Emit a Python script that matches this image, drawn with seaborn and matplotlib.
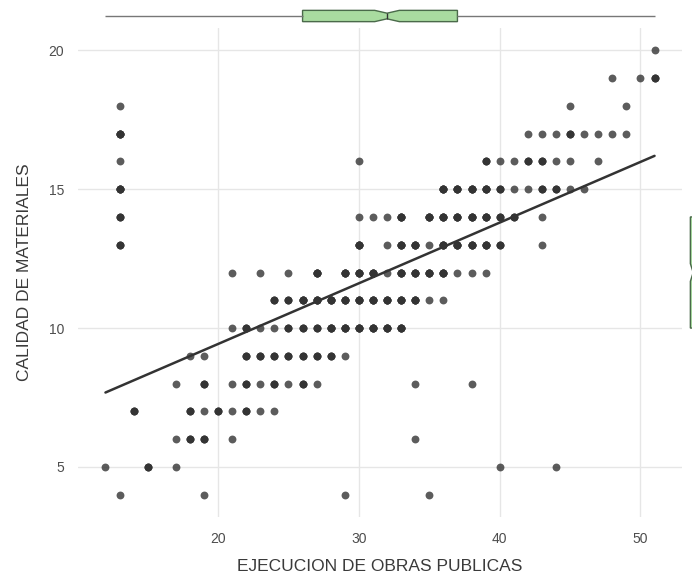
import numpy as np
import pandas as pd
import matplotlib
matplotlib.use('Agg')
import matplotlib.pyplot as plt
import seaborn as sns

# Puntos, una fila por cada valor de calidad.
# veces = cuantas observaciones se estima que hay en cada punto (los mas oscuros se repiten)
calidad = [20, 19, 18, 17, 16, 15, 14, 13, 12, 11, 10, 9, 8, 7, 6, 5, 4]

obras = [
    [51],
    [48, 50, 51],
    [13, 45, 49],
    [13, 42, 43, 44, 45, 46, 47, 48, 49],
    [13, 30, 39, 40, 41, 42, 43, 44, 45, 47],
    [13, 36, 37, 38, 39, 40, 41, 42, 43, 44, 45, 46],
    [13, 30, 31, 32, 33, 35, 36, 37, 38, 39, 40, 41, 43],
    [13, 30, 32, 33, 34, 35, 36, 37, 38, 39, 40, 43],
    [21, 23, 25, 27, 29, 30, 31, 32, 33, 34, 35, 36, 37, 38, 39],
    [24, 25, 26, 27, 28, 29, 30, 31, 32, 33, 34, 35, 36],
    [21, 22, 23, 24, 25, 26, 27, 28, 29, 30, 31, 32, 33],
    [18, 19, 22, 23, 24, 25, 26, 27, 28, 29],
    [17, 19, 21, 22, 23, 24, 25, 26, 27, 34, 38],
    [14, 18, 19, 20, 21, 22, 23, 24],
    [17, 18, 19, 21, 34],
    [12, 15, 17, 40, 44],
    [13, 19, 29, 35],
]

veces = [
    [1],
    [1, 1, 3],
    [1, 1, 1],
    [5, 1, 1, 1, 3, 1, 1, 1, 1],
    [1, 1, 3, 1, 1, 3, 3, 1, 1, 1],
    [5, 5, 5, 5, 5, 3, 1, 1, 3, 3, 1, 1],
    [3, 1, 1, 1, 5, 5, 5, 5, 5, 5, 3, 3, 1],
    [3, 5, 1, 5, 5, 1, 5, 5, 5, 5, 3, 1],
    [1, 1, 1, 5, 5, 5, 5, 1, 5, 5, 5, 5, 1, 1, 1],
    [3, 3, 5, 5, 5, 5, 5, 5, 5, 5, 5, 1, 1],
    [1, 3, 1, 1, 3, 3, 3, 5, 5, 5, 5, 5, 5],
    [1, 1, 3, 3, 3, 3, 3, 3, 3, 1],
    [1, 3, 1, 3, 1, 3, 1, 3, 1, 1, 1],
    [3, 3, 1, 3, 1, 3, 1, 1],
    [1, 3, 3, 1, 1],
    [1, 3, 1, 1, 1],
    [1, 1, 1, 1],
]

xs, ys, ws = [], [], []
for c, fila, pesos in zip(calidad, obras, veces):
    xs += fila
    ys += [c] * len(fila)
    ws += pesos

df = pd.DataFrame({'obras': np.repeat(xs, ws), 'calidad': np.repeat(ys, ws)})

'''
Figura
'''
sns.set_style('white')
plt.rcParams['font.family'] = ['Liberation Sans', 'DejaVu Sans']

W, H = 692, 579
fig = plt.figure(figsize=(W / 100, H / 100), dpi=100)
ax = fig.add_axes([78 / W, 62 / H, 604 / W, 489 / H])

sns.scatterplot(data=df, x='obras', y='calidad', color='#333333', alpha=0.8,
                s=32, linewidth=0, ax=ax)
sns.regplot(data=df, x='obras', y='calidad', scatter=False, ci=None,
            color='#333333', line_kws={'lw': 1.8}, ax=ax)

# expansion de 5% como ggplot
xr = df.obras.max() - df.obras.min()
yr = df.calidad.max() - df.calidad.min()
ax.set_xlim(df.obras.min() - 0.05 * xr, df.obras.max() + 0.05 * xr)
ax.set_ylim(df.calidad.min() - 0.05 * yr, df.calidad.max() + 0.05 * yr)

ax.set_xticks([20, 30, 40, 50])
ax.set_yticks([5, 10, 15, 20])
ax.grid(True, color='#e6e6e6', lw=1)
ax.set_axisbelow(True)
for s in ax.spines.values():
    s.set_visible(False)
ax.tick_params(length=0, labelsize=10, labelcolor='#4d4d4d')
ax.tick_params(axis='x', pad=11)
ax.tick_params(axis='y', pad=10)
ax.set_xlabel('EJECUCION DE OBRAS PUBLICAS', fontsize=12.5, color='#3a3a3a', labelpad=9)
ax.set_ylabel('CALIDAD DE MATERIALES', fontsize=12.5, color='#3a3a3a', labelpad=12)

# boxplots marginales
caja = dict(notch=True, width=0.47, color='#a9dba0', saturation=1,
            linecolor='#4a6a4a', linewidth=1, showcaps=False,
            whiskerprops={'color': '#777777'}, medianprops={'color': '#333333'})

ax_top = fig.add_axes([78 / W, (H - 28) / H, 604 / W, 24 / H])
sns.boxplot(x=df['obras'], ax=ax_top, orient='h', **caja)
ax_top.set_xlim(ax.get_xlim())
ax_top.set_ylim(0.5, -0.5)
ax_top.axis('off')

ax_der = fig.add_axes([684 / W, 62 / H, 24 / W, 489 / H])
sns.boxplot(y=df['calidad'], ax=ax_der, orient='v', **caja)
ax_der.set_ylim(ax.get_ylim())
ax_der.set_xlim(-0.5, 0.5)
ax_der.axis('off')

fig.savefig('out.png', dpi=100)
